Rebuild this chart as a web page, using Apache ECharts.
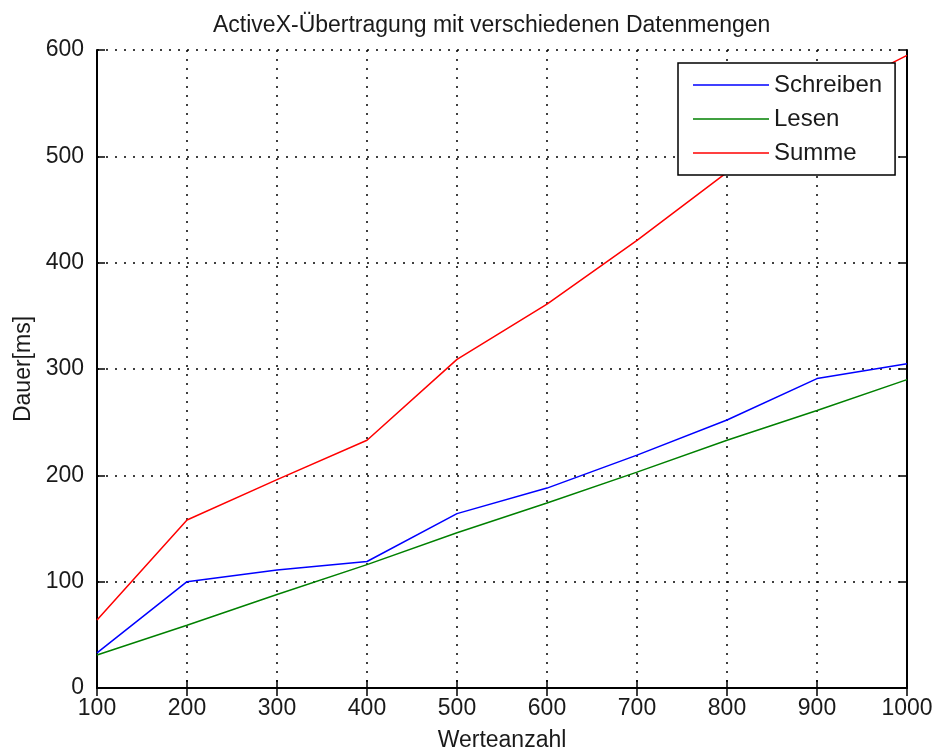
<!DOCTYPE html>
<html>
<head>
<meta charset="utf-8">
<script src="https://cdn.jsdelivr.net/npm/echarts@6/dist/echarts.min.js"></script>
<style>html,body{margin:0;padding:0;background:#fff}#c{width:936px;height:751px}</style>
</head>
<body>
<div id="c"></div>
<script>
var werteanzahl = [100, 200, 300, 400, 500, 600, 700, 800, 900, 1000];
var schreiben = [33, 100, 111, 119, 164, 188, 219, 252, 291, 305];
var lesen     = [31, 59, 88, 116, 146, 174, 203, 233, 261, 290];
var summe     = [64, 158, 196, 233, 309, 361, 421, 485, 552, 595];
var xTicks = [100, 1000, 100];
var yTicks = [0, 600, 100];

var FONT = "'Liberation Sans', Arial, sans-serif";
var TXT = '#1a1a1a';
function pairs(v){ return werteanzahl.map(function(x,i){ return [x, v[i]]; }); }
function plain(v){ return String(v); }

var grid = {left: 97, right: 29, top: 50, bottom: 63, containLabel: false, outerBoundsMode: 'none'};
var dotted = {color: '#000', width: 1.5, type: [2, 7]};
var axLine = {show: true, lineStyle: {color: '#000', width: 2}};
var tick = {show: true, inside: true, length: 8, lineStyle: {color: '#000', width: 1.5}};

var chart = echarts.init(document.getElementById('c'));
chart.setOption({
  animation: false,
  backgroundColor: '#fff',
  title: {
    text: 'ActiveX-Übertragung mit verschiedenen Datenmengen',
    left: 208, top: 9,
    textStyle: {fontFamily: FONT, fontSize: 23, fontWeight: 'normal', color: TXT}
  },
  grid: grid,
  legend: {
    orient: 'vertical',
    left: 678, top: 63,
    padding: [10, 13, 10, 15],
    icon: 'rect',
    itemWidth: 76, itemHeight: 1.5, itemGap: 10,
    backgroundColor: '#fff',
    borderColor: '#000', borderWidth: 1.5,
    textStyle: {fontFamily: FONT, fontSize: 24, color: TXT},
    data: ['Schreiben', 'Lesen', 'Summe']
  },
  xAxis: [{
    type: 'value', min: xTicks[0], max: xTicks[1], interval: xTicks[2],
    name: 'Werteanzahl', nameLocation: 'middle', nameGap: 41,
    nameTextStyle: {fontFamily: FONT, fontSize: 23, color: TXT},
    axisLine: axLine, axisTick: tick,
    axisLabel: {fontFamily: FONT, fontSize: 23, color: TXT, margin: 9, formatter: plain},
    splitLine: {show: true, lineStyle: dotted}
  }, {
    type: 'value', position: 'top', min: xTicks[0], max: xTicks[1], interval: xTicks[2],
    axisLine: axLine, axisTick: tick, axisLabel: {show: false}, splitLine: {show: false}
  }],
  yAxis: [{
    type: 'value', min: yTicks[0], max: yTicks[1], interval: yTicks[2],
    name: 'Dauer[ms]', nameLocation: 'middle', nameGap: 58,
    nameTextStyle: {fontFamily: FONT, fontSize: 23, color: TXT},
    axisLine: axLine, axisTick: tick,
    axisLabel: {fontFamily: FONT, fontSize: 23, color: TXT, margin: 13, formatter: plain},
    splitLine: {show: true, lineStyle: dotted}
  }, {
    type: 'value', position: 'right', min: yTicks[0], max: yTicks[1], interval: yTicks[2],
    axisLine: axLine, axisTick: tick, axisLabel: {show: false}, splitLine: {show: false}
  }],
  series: [
    {name: 'Schreiben', type: 'line', data: pairs(schreiben), symbol: 'none', z: 3,
     lineStyle: {color: '#0000ff', width: 1.5}, itemStyle: {color: '#0000ff'}},
    {name: 'Lesen', type: 'line', data: pairs(lesen), symbol: 'none', z: 3,
     lineStyle: {color: '#008000', width: 1.5}, itemStyle: {color: '#008000'}},
    {name: 'Summe', type: 'line', data: pairs(summe), symbol: 'none', z: 3,
     lineStyle: {color: '#ff0000', width: 1.5}, itemStyle: {color: '#ff0000'}}
  ]
});
</script>
</body>
</html>
